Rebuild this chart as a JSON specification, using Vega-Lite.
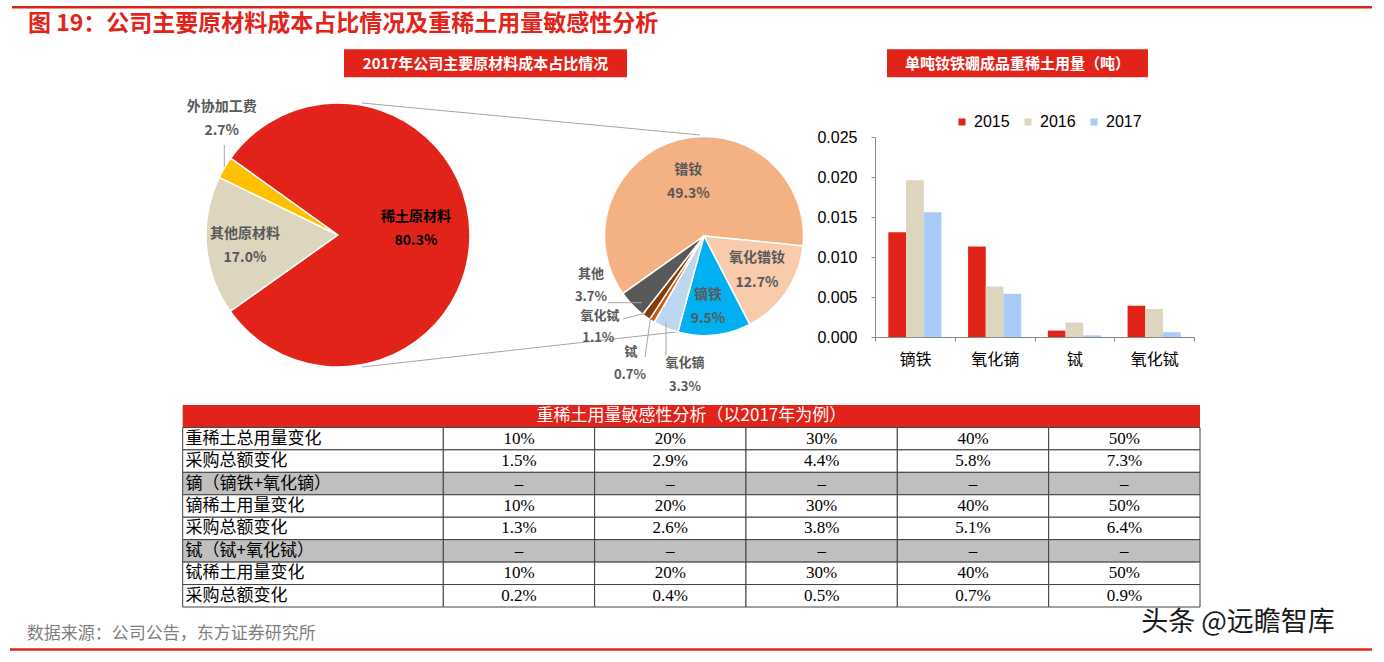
{
"$schema": "https://vega.github.io/schema/vega-lite/v6.json",
"padding": 0,
"background": "#ffffff",
"spacing": 0,
"bounds": "full",
"config": {"view": {"stroke": null}, "concat": {"spacing": 0}, "font": "Noto Sans CJK SC", "text": {"baseline": "middle"}},
"datasets": {
  "cost": [
    {"项目": "其他原材料", "占比": 0.170, "序号": 1},
    {"项目": "外协加工费", "占比": 0.027, "序号": 2},
    {"项目": "稀土原材料", "占比": 0.803, "序号": 3}
  ],
  "rare": [
    {"项目": "镨钕", "占比": 0.493, "序号": 1},
    {"项目": "氧化镨钕", "占比": 0.127, "序号": 2},
    {"项目": "镝铁", "占比": 0.095, "序号": 3},
    {"项目": "氧化镝", "占比": 0.033, "序号": 4},
    {"项目": "铽", "占比": 0.007, "序号": 5},
    {"项目": "氧化铽", "占比": 0.011, "序号": 6},
    {"项目": "其他", "占比": 0.037, "序号": 7}
  ],
  "bars": [
    {"材料": "镝铁", "年份": "2015", "用量": 0.0131},
    {"材料": "镝铁", "年份": "2016", "用量": 0.0196},
    {"材料": "镝铁", "年份": "2017", "用量": 0.0156},
    {"材料": "氧化镝", "年份": "2015", "用量": 0.0113},
    {"材料": "氧化镝", "年份": "2016", "用量": 0.0063},
    {"材料": "氧化镝", "年份": "2017", "用量": 0.0054},
    {"材料": "铽", "年份": "2015", "用量": 0.0008},
    {"材料": "铽", "年份": "2016", "用量": 0.0018},
    {"材料": "铽", "年份": "2017", "用量": 0.0002},
    {"材料": "氧化铽", "年份": "2015", "用量": 0.0039},
    {"材料": "氧化铽", "年份": "2016", "用量": 0.0035},
    {"材料": "氧化铽", "年份": "2017", "用量": 0.0006}
  ],
  "table": [
    {"行": 1, "指标": "重稀土总用量变化", "情景1": "10%", "情景2": "20%", "情景3": "30%", "情景4": "40%", "情景5": "50%"},
    {"行": 2, "指标": "采购总额变化", "情景1": "1.5%", "情景2": "2.9%", "情景3": "4.4%", "情景4": "5.8%", "情景5": "7.3%"},
    {"行": 3, "指标": "镝（镝铁+氧化镝）", "情景1": "–", "情景2": "–", "情景3": "–", "情景4": "–", "情景5": "–"},
    {"行": 4, "指标": "镝稀土用量变化", "情景1": "10%", "情景2": "20%", "情景3": "30%", "情景4": "40%", "情景5": "50%"},
    {"行": 5, "指标": "采购总额变化", "情景1": "1.3%", "情景2": "2.6%", "情景3": "3.8%", "情景4": "5.1%", "情景5": "6.4%"},
    {"行": 6, "指标": "铽（铽+氧化铽）", "情景1": "–", "情景2": "–", "情景3": "–", "情景4": "–", "情景5": "–"},
    {"行": 7, "指标": "铽稀土用量变化", "情景1": "10%", "情景2": "20%", "情景3": "30%", "情景4": "40%", "情景5": "50%"},
    {"行": 8, "指标": "采购总额变化", "情景1": "0.2%", "情景2": "0.4%", "情景3": "0.5%", "情景4": "0.7%", "情景5": "0.9%"}
  ]
},
"resolve": {"scale": {"color": "independent"}, "legend": {"color": "independent"}},
"vconcat": [
  {
    "width": 1384, "height": 45,
    "layer": [
      {"data": {"values": [{}]}, "mark": {"type": "rule", "color": "#E2231A", "strokeWidth": 2.5},
       "encoding": {
         "x": {"datum": 12, "type": "quantitative", "scale": {"domain": [0, 1384], "nice": false, "zero": false}, "axis": null},
         "x2": {"datum": 1372},
         "y": {"datum": 7.3, "type": "quantitative", "scale": {"domain": [0, 45], "nice": false, "zero": false, "reverse": true}, "axis": null}}},
      {"data": {"values": [{"标题": "图 19：公司主要原材料成本占比情况及重稀土用量敏感性分析"}]},
       "mark": {"type": "text", "align": "left", "baseline": "middle", "font": "Noto Sans CJK SC", "fontSize": 23, "fontWeight": "bold", "color": "#E2231A"},
       "encoding": {
         "x": {"datum": 28, "type": "quantitative", "scale": {"domain": [0, 1384], "nice": false, "zero": false}, "axis": null},
         "y": {"datum": 24, "type": "quantitative", "scale": {"domain": [0, 45], "nice": false, "zero": false, "reverse": true}, "axis": null},
         "text": {"field": "标题"}}}
    ]
  },
  {
    "spacing": 0, "bounds": "flush",
    "resolve": {"scale": {"color": "independent"}, "legend": {"color": "independent"}},
    "hconcat": [
      {
        "width": 875, "height": 360,
        "layer": [
          {"data": {"values": [{}]}, "mark": {"type": "rect", "color": "#E2231A"},
           "encoding": {
             "x": {"datum": 344, "type": "quantitative", "scale": {"domain": [0, 875], "nice": false, "zero": false}, "axis": null},
             "x2": {"datum": 627},
             "y": {"datum": 49.3, "type": "quantitative", "scale": {"domain": [45, 405], "nice": false, "zero": false, "reverse": true}, "axis": null},
             "y2": {"datum": 77.3}}},
          {"data": {"values": [{"标题": "2017年公司主要原材料成本占比情况"}]},
           "mark": {"type": "text", "font": "Noto Sans CJK SC", "fontSize": 15, "fontWeight": "bold", "color": "#ffffff", "align": "center", "baseline": "middle"},
           "encoding": {
             "x": {"datum": 485.5, "type": "quantitative", "scale": {"domain": [0, 875], "nice": false, "zero": false}, "axis": null},
             "y": {"datum": 63.5, "type": "quantitative", "scale": {"domain": [45, 405], "nice": false, "zero": false, "reverse": true}, "axis": null},
             "text": {"field": "标题"}}},
          {"data": {"values": [{}]}, "mark": {"type": "rule", "color": "#A6A6A6", "strokeWidth": 1},
           "encoding": {
             "x": {"datum": 362, "type": "quantitative", "scale": {"domain": [0, 875], "nice": false, "zero": false}, "axis": null},
             "x2": {"datum": 700},
             "y": {"datum": 103, "type": "quantitative", "scale": {"domain": [45, 405], "nice": false, "zero": false, "reverse": true}, "axis": null},
             "y2": {"datum": 135}}},
          {"data": {"values": [{}]}, "mark": {"type": "rule", "color": "#A6A6A6", "strokeWidth": 1},
           "encoding": {
             "x": {"datum": 362, "type": "quantitative", "scale": {"domain": [0, 875], "nice": false, "zero": false}, "axis": null},
             "x2": {"datum": 703},
             "y": {"datum": 367, "type": "quantitative", "scale": {"domain": [45, 405], "nice": false, "zero": false, "reverse": true}, "axis": null},
             "y2": {"datum": 329}}},
          {"data": {"name": "cost"},
           "mark": {"type": "arc", "radius": 132, "stroke": "#ffffff", "strokeWidth": 1.5},
           "encoding": {
             "x": {"datum": 338, "type": "quantitative", "scale": {"domain": [0, 875], "nice": false, "zero": false}, "axis": null},
             "y": {"datum": 235, "type": "quantitative", "scale": {"domain": [45, 405], "nice": false, "zero": false, "reverse": true}, "axis": null},
             "theta": {"field": "占比", "type": "quantitative", "stack": "normalize", "scale": {"range": [4.096, 10.379]}},
             "order": {"field": "序号", "type": "quantitative"},
             "color": {"field": "项目", "type": "nominal", "legend": null,
               "scale": {"domain": ["其他原材料", "外协加工费", "稀土原材料", "镨钕", "氧化镨钕", "镝铁", "氧化镝", "铽", "氧化铽", "其他"],
                         "range": ["#DDD5BE", "#FFC000", "#E2231A", "#F4B183", "#F8CBAD", "#00B0F0", "#BDD7EE", "#C55A11", "#843C0C", "#595959"]}}}},
          {"data": {"name": "rare"},
           "mark": {"type": "arc", "radius": 99.5, "stroke": "#ffffff", "strokeWidth": 1.5},
           "encoding": {
             "x": {"datum": 704, "type": "quantitative", "scale": {"domain": [0, 875], "nice": false, "zero": false}, "axis": null},
             "y": {"datum": 236, "type": "quantitative", "scale": {"domain": [45, 405], "nice": false, "zero": false, "reverse": true}, "axis": null},
             "theta": {"field": "占比", "type": "quantitative", "stack": "normalize", "scale": {"range": [4.096, 10.379]}},
             "order": {"field": "序号", "type": "quantitative"},
             "color": {"field": "项目", "type": "nominal", "legend": null,
               "scale": {"domain": ["其他原材料", "外协加工费", "稀土原材料", "镨钕", "氧化镨钕", "镝铁", "氧化镝", "铽", "氧化铽", "其他"],
                         "range": ["#DDD5BE", "#FFC000", "#E2231A", "#F4B183", "#F8CBAD", "#00B0F0", "#BDD7EE", "#C55A11", "#843C0C", "#595959"]}}}},
          {"data": {"values": [{}]}, "mark": {"type": "rule", "color": "#A6A6A6", "strokeWidth": 1},
           "encoding": {
             "x": {"datum": 224.3, "type": "quantitative", "scale": {"domain": [0, 875], "nice": false, "zero": false}, "axis": null},
             "y": {"datum": 145, "type": "quantitative", "scale": {"domain": [45, 405], "nice": false, "zero": false, "reverse": true}, "axis": null},
             "y2": {"datum": 167}}},
          {"data": {"values": [{}]}, "mark": {"type": "rule", "color": "#A6A6A6", "strokeWidth": 1},
           "encoding": {
             "x": {"datum": 608, "type": "quantitative", "scale": {"domain": [0, 875], "nice": false, "zero": false}, "axis": null},
             "x2": {"datum": 642},
             "y": {"datum": 302.7, "type": "quantitative", "scale": {"domain": [45, 405], "nice": false, "zero": false, "reverse": true}, "axis": null}}},
          {"data": {"values": [{}]}, "mark": {"type": "rule", "color": "#A6A6A6", "strokeWidth": 1},
           "encoding": {
             "x": {"datum": 623, "type": "quantitative", "scale": {"domain": [0, 875], "nice": false, "zero": false}, "axis": null},
             "x2": {"datum": 646},
             "y": {"datum": 319, "type": "quantitative", "scale": {"domain": [45, 405], "nice": false, "zero": false, "reverse": true}, "axis": null},
             "y2": {"datum": 313}}},
          {"data": {"values": [{}]}, "mark": {"type": "rule", "color": "#A6A6A6", "strokeWidth": 1},
           "encoding": {
             "x": {"datum": 645, "type": "quantitative", "scale": {"domain": [0, 875], "nice": false, "zero": false}, "axis": null},
             "x2": {"datum": 650.5},
             "y": {"datum": 357, "type": "quantitative", "scale": {"domain": [45, 405], "nice": false, "zero": false, "reverse": true}, "axis": null},
             "y2": {"datum": 318}}},
          {"data": {"values": [{}]}, "mark": {"type": "rule", "color": "#A6A6A6", "strokeWidth": 1},
           "encoding": {
             "x": {"datum": 666, "type": "quantitative", "scale": {"domain": [0, 875], "nice": false, "zero": false}, "axis": null},
             "y": {"datum": 322, "type": "quantitative", "scale": {"domain": [45, 405], "nice": false, "zero": false, "reverse": true}, "axis": null},
             "y2": {"datum": 355}}},
          {"data": {"name": "cost"}, "transform": [{"filter": "datum['项目'] === '稀土原材料'"}],
           "layer": [
             {"mark": {"type": "text", "font": "Noto Sans CJK SC", "fontSize": 14, "fontWeight": "bold", "color": "#000000", "align": "center", "baseline": "middle"},
              "encoding": {"x": {"datum": 416, "type": "quantitative", "scale": {"domain": [0, 875], "nice": false, "zero": false}, "axis": null},
                           "y": {"datum": 217.3, "type": "quantitative", "scale": {"domain": [45, 405], "nice": false, "zero": false, "reverse": true}, "axis": null},
                           "text": {"field": "项目"}}},
             {"mark": {"type": "text", "font": "Noto Sans CJK SC", "fontSize": 14, "fontWeight": "bold", "color": "#000000", "align": "center", "baseline": "middle"},
              "encoding": {"x": {"datum": 416, "type": "quantitative", "scale": {"domain": [0, 875], "nice": false, "zero": false}, "axis": null},
                           "y": {"datum": 241, "type": "quantitative", "scale": {"domain": [45, 405], "nice": false, "zero": false, "reverse": true}, "axis": null},
                           "text": {"field": "占比", "type": "quantitative", "format": ".1%"}}}
           ]},
          {"data": {"name": "cost"}, "transform": [{"filter": "datum['项目'] === '其他原材料'"}],
           "layer": [
             {"mark": {"type": "text", "font": "Noto Sans CJK SC", "fontSize": 14, "fontWeight": "bold", "color": "#595959", "align": "center", "baseline": "middle"},
              "encoding": {"x": {"datum": 245, "type": "quantitative", "scale": {"domain": [0, 875], "nice": false, "zero": false}, "axis": null},
                           "y": {"datum": 234.3, "type": "quantitative", "scale": {"domain": [45, 405], "nice": false, "zero": false, "reverse": true}, "axis": null},
                           "text": {"field": "项目"}}},
             {"mark": {"type": "text", "font": "Noto Sans CJK SC", "fontSize": 14, "fontWeight": "bold", "color": "#595959", "align": "center", "baseline": "middle"},
              "encoding": {"x": {"datum": 245, "type": "quantitative", "scale": {"domain": [0, 875], "nice": false, "zero": false}, "axis": null},
                           "y": {"datum": 257.7, "type": "quantitative", "scale": {"domain": [45, 405], "nice": false, "zero": false, "reverse": true}, "axis": null},
                           "text": {"field": "占比", "type": "quantitative", "format": ".1%"}}}
           ]},
          {"data": {"name": "cost"}, "transform": [{"filter": "datum['项目'] === '外协加工费'"}],
           "layer": [
             {"mark": {"type": "text", "font": "Noto Sans CJK SC", "fontSize": 14, "fontWeight": "bold", "color": "#595959", "align": "center", "baseline": "middle"},
              "encoding": {"x": {"datum": 221.7, "type": "quantitative", "scale": {"domain": [0, 875], "nice": false, "zero": false}, "axis": null},
                           "y": {"datum": 107.3, "type": "quantitative", "scale": {"domain": [45, 405], "nice": false, "zero": false, "reverse": true}, "axis": null},
                           "text": {"field": "项目"}}},
             {"mark": {"type": "text", "font": "Noto Sans CJK SC", "fontSize": 14, "fontWeight": "bold", "color": "#595959", "align": "center", "baseline": "middle"},
              "encoding": {"x": {"datum": 221.7, "type": "quantitative", "scale": {"domain": [0, 875], "nice": false, "zero": false}, "axis": null},
                           "y": {"datum": 131, "type": "quantitative", "scale": {"domain": [45, 405], "nice": false, "zero": false, "reverse": true}, "axis": null},
                           "text": {"field": "占比", "type": "quantitative", "format": ".1%"}}}
           ]},
          {"data": {"name": "rare"}, "transform": [{"filter": "datum['项目'] === '镨钕'"}],
           "layer": [
             {"mark": {"type": "text", "font": "Noto Sans CJK SC", "fontSize": 14, "fontWeight": "bold", "color": "#595959", "align": "center", "baseline": "middle"},
              "encoding": {"x": {"datum": 688.3, "type": "quantitative", "scale": {"domain": [0, 875], "nice": false, "zero": false}, "axis": null},
                           "y": {"datum": 170, "type": "quantitative", "scale": {"domain": [45, 405], "nice": false, "zero": false, "reverse": true}, "axis": null},
                           "text": {"field": "项目"}}},
             {"mark": {"type": "text", "font": "Noto Sans CJK SC", "fontSize": 14, "fontWeight": "bold", "color": "#595959", "align": "center", "baseline": "middle"},
              "encoding": {"x": {"datum": 688.3, "type": "quantitative", "scale": {"domain": [0, 875], "nice": false, "zero": false}, "axis": null},
                           "y": {"datum": 194, "type": "quantitative", "scale": {"domain": [45, 405], "nice": false, "zero": false, "reverse": true}, "axis": null},
                           "text": {"field": "占比", "type": "quantitative", "format": ".1%"}}}
           ]},
          {"data": {"name": "rare"}, "transform": [{"filter": "datum['项目'] === '氧化镨钕'"}],
           "layer": [
             {"mark": {"type": "text", "font": "Noto Sans CJK SC", "fontSize": 14, "fontWeight": "bold", "color": "#595959", "align": "center", "baseline": "middle"},
              "encoding": {"x": {"datum": 757, "type": "quantitative", "scale": {"domain": [0, 875], "nice": false, "zero": false}, "axis": null},
                           "y": {"datum": 258.3, "type": "quantitative", "scale": {"domain": [45, 405], "nice": false, "zero": false, "reverse": true}, "axis": null},
                           "text": {"field": "项目"}}},
             {"mark": {"type": "text", "font": "Noto Sans CJK SC", "fontSize": 14, "fontWeight": "bold", "color": "#595959", "align": "center", "baseline": "middle"},
              "encoding": {"x": {"datum": 757, "type": "quantitative", "scale": {"domain": [0, 875], "nice": false, "zero": false}, "axis": null},
                           "y": {"datum": 282.7, "type": "quantitative", "scale": {"domain": [45, 405], "nice": false, "zero": false, "reverse": true}, "axis": null},
                           "text": {"field": "占比", "type": "quantitative", "format": ".1%"}}}
           ]},
          {"data": {"name": "rare"}, "transform": [{"filter": "datum['项目'] === '镝铁'"}],
           "layer": [
             {"mark": {"type": "text", "font": "Noto Sans CJK SC", "fontSize": 14, "fontWeight": "bold", "color": "#595959", "align": "center", "baseline": "middle"},
              "encoding": {"x": {"datum": 708, "type": "quantitative", "scale": {"domain": [0, 875], "nice": false, "zero": false}, "axis": null},
                           "y": {"datum": 295, "type": "quantitative", "scale": {"domain": [45, 405], "nice": false, "zero": false, "reverse": true}, "axis": null},
                           "text": {"field": "项目"}}},
             {"mark": {"type": "text", "font": "Noto Sans CJK SC", "fontSize": 14, "fontWeight": "bold", "color": "#595959", "align": "center", "baseline": "middle"},
              "encoding": {"x": {"datum": 708, "type": "quantitative", "scale": {"domain": [0, 875], "nice": false, "zero": false}, "axis": null},
                           "y": {"datum": 319, "type": "quantitative", "scale": {"domain": [45, 405], "nice": false, "zero": false, "reverse": true}, "axis": null},
                           "text": {"field": "占比", "type": "quantitative", "format": ".1%"}}}
           ]},
          {"data": {"name": "rare"}, "transform": [{"filter": "datum['项目'] === '其他'"}],
           "layer": [
             {"mark": {"type": "text", "font": "Noto Sans CJK SC", "fontSize": 13, "fontWeight": "bold", "color": "#595959", "align": "center", "baseline": "middle"},
              "encoding": {"x": {"datum": 591, "type": "quantitative", "scale": {"domain": [0, 875], "nice": false, "zero": false}, "axis": null},
                           "y": {"datum": 274, "type": "quantitative", "scale": {"domain": [45, 405], "nice": false, "zero": false, "reverse": true}, "axis": null},
                           "text": {"field": "项目"}}},
             {"mark": {"type": "text", "font": "Noto Sans CJK SC", "fontSize": 13, "fontWeight": "bold", "color": "#595959", "align": "center", "baseline": "middle"},
              "encoding": {"x": {"datum": 591, "type": "quantitative", "scale": {"domain": [0, 875], "nice": false, "zero": false}, "axis": null},
                           "y": {"datum": 296.5, "type": "quantitative", "scale": {"domain": [45, 405], "nice": false, "zero": false, "reverse": true}, "axis": null},
                           "text": {"field": "占比", "type": "quantitative", "format": ".1%"}}}
           ]},
          {"data": {"name": "rare"}, "transform": [{"filter": "datum['项目'] === '氧化铽'"}],
           "layer": [
             {"mark": {"type": "text", "font": "Noto Sans CJK SC", "fontSize": 13, "fontWeight": "bold", "color": "#595959", "align": "center", "baseline": "middle"},
              "encoding": {"x": {"datum": 600, "type": "quantitative", "scale": {"domain": [0, 875], "nice": false, "zero": false}, "axis": null},
                           "y": {"datum": 316, "type": "quantitative", "scale": {"domain": [45, 405], "nice": false, "zero": false, "reverse": true}, "axis": null},
                           "text": {"field": "项目"}}},
             {"mark": {"type": "text", "font": "Noto Sans CJK SC", "fontSize": 13, "fontWeight": "bold", "color": "#595959", "align": "center", "baseline": "middle"},
              "encoding": {"x": {"datum": 598.3, "type": "quantitative", "scale": {"domain": [0, 875], "nice": false, "zero": false}, "axis": null},
                           "y": {"datum": 338, "type": "quantitative", "scale": {"domain": [45, 405], "nice": false, "zero": false, "reverse": true}, "axis": null},
                           "text": {"field": "占比", "type": "quantitative", "format": ".1%"}}}
           ]},
          {"data": {"name": "rare"}, "transform": [{"filter": "datum['项目'] === '铽'"}],
           "layer": [
             {"mark": {"type": "text", "font": "Noto Sans CJK SC", "fontSize": 13, "fontWeight": "bold", "color": "#595959", "align": "center", "baseline": "middle"},
              "encoding": {"x": {"datum": 631, "type": "quantitative", "scale": {"domain": [0, 875], "nice": false, "zero": false}, "axis": null},
                           "y": {"datum": 352, "type": "quantitative", "scale": {"domain": [45, 405], "nice": false, "zero": false, "reverse": true}, "axis": null},
                           "text": {"field": "项目"}}},
             {"mark": {"type": "text", "font": "Noto Sans CJK SC", "fontSize": 13, "fontWeight": "bold", "color": "#595959", "align": "center", "baseline": "middle"},
              "encoding": {"x": {"datum": 630, "type": "quantitative", "scale": {"domain": [0, 875], "nice": false, "zero": false}, "axis": null},
                           "y": {"datum": 375, "type": "quantitative", "scale": {"domain": [45, 405], "nice": false, "zero": false, "reverse": true}, "axis": null},
                           "text": {"field": "占比", "type": "quantitative", "format": ".1%"}}}
           ]},
          {"data": {"name": "rare"}, "transform": [{"filter": "datum['项目'] === '氧化镝'"}],
           "layer": [
             {"mark": {"type": "text", "font": "Noto Sans CJK SC", "fontSize": 13, "fontWeight": "bold", "color": "#595959", "align": "center", "baseline": "middle"},
              "encoding": {"x": {"datum": 685, "type": "quantitative", "scale": {"domain": [0, 875], "nice": false, "zero": false}, "axis": null},
                           "y": {"datum": 363.3, "type": "quantitative", "scale": {"domain": [45, 405], "nice": false, "zero": false, "reverse": true}, "axis": null},
                           "text": {"field": "项目"}}},
             {"mark": {"type": "text", "font": "Noto Sans CJK SC", "fontSize": 13, "fontWeight": "bold", "color": "#595959", "align": "center", "baseline": "middle"},
              "encoding": {"x": {"datum": 685, "type": "quantitative", "scale": {"domain": [0, 875], "nice": false, "zero": false}, "axis": null},
                           "y": {"datum": 386.7, "type": "quantitative", "scale": {"domain": [45, 405], "nice": false, "zero": false, "reverse": true}, "axis": null},
                           "text": {"field": "占比", "type": "quantitative", "format": ".1%"}}}
           ]}
        ]
      },
      {
        "spacing": 0, "bounds": "flush",
        "resolve": {"scale": {"color": "independent"}, "legend": {"color": "independent"}},
        "vconcat": [
          {
            "width": 319, "height": 92,
            "layer": [
              {"data": {"values": [{}]}, "mark": {"type": "rect", "color": "#E2231A"},
               "encoding": {
                 "x": {"datum": 887, "type": "quantitative", "scale": {"domain": [875, 1194], "nice": false, "zero": false}, "axis": null},
                 "x2": {"datum": 1148},
                 "y": {"datum": 49.3, "type": "quantitative", "scale": {"domain": [45, 137], "nice": false, "zero": false, "reverse": true}, "axis": null},
                 "y2": {"datum": 77.3}}},
              {"data": {"values": [{"标题": "单吨钕铁硼成品重稀土用量（吨）"}]},
               "mark": {"type": "text", "font": "Noto Sans CJK SC", "fontSize": 15, "fontWeight": "bold", "color": "#ffffff", "align": "center", "baseline": "middle"},
               "encoding": {
                 "x": {"datum": 1017.5, "type": "quantitative", "scale": {"domain": [875, 1194], "nice": false, "zero": false}, "axis": null},
                 "y": {"datum": 63.5, "type": "quantitative", "scale": {"domain": [45, 137], "nice": false, "zero": false, "reverse": true}, "axis": null},
                 "text": {"field": "标题"}}}
            ]
          },
          {
            "width": 319, "height": 200,
            "data": {"name": "bars"},
            "mark": {"type": "bar"},
            "encoding": {
              "x": {"field": "材料", "type": "nominal", "sort": ["镝铁", "氧化镝", "铽", "氧化铽"],
                    "scale": {"paddingInner": 0, "paddingOuter": 0},
                    "axis": {"title": null, "labelAngle": 0, "labelFont": "Noto Sans CJK SC", "labelFontSize": 16, "labelColor": "#000000",
                             "tickBand": "extent", "tickSize": 4, "labelPadding": 10, "domainColor": "#898989", "tickColor": "#898989"}},
              "xOffset": {"field": "年份", "type": "nominal", "scale": {"paddingInner": 0, "paddingOuter": 0.753}},
              "y": {"field": "用量", "type": "quantitative", "scale": {"domain": [0, 0.025], "nice": false},
                    "axis": {"title": null, "values": [0, 0.005, 0.01, 0.015, 0.02, 0.025], "format": ".3f", "grid": false,
                             "labelFont": "Liberation Sans", "labelFontSize": 16, "labelColor": "#000000",
                             "tickSize": 4, "labelPadding": 14, "domainColor": "#898989", "tickColor": "#898989"}},
              "color": {"field": "年份", "type": "nominal",
                        "scale": {"domain": ["2015", "2016", "2017"], "range": ["#E2231A", "#DDD5BE", "#A8CBF7"]},
                        "legend": {"title": null, "orient": "none", "legendX": 79, "legendY": -23, "direction": "horizontal",
                                   "symbolType": "square", "symbolSize": 49, "symbolStrokeWidth": 0,
                                   "labelFont": "Liberation Sans", "labelFontSize": 16, "labelColor": "#000000",
                                   "labelOffset": 4, "columnPadding": 10}}
            }
          }
        ]
      }
    ]
  },
  {
    "width": 1384, "height": 202,
    "resolve": {"scale": {"x": "independent"}},
    "layer": [
      {"data": {"values": [{"行": 0, "标题": "重稀土用量敏感性分析（以2017年为例）"}]},
       "layer": [
         {"mark": {"type": "rect", "color": "#E2231A"},
          "encoding": {
            "x": {"datum": 182.7, "type": "quantitative", "scale": {"domain": [0, 1384], "nice": false, "zero": false}, "axis": null},
            "x2": {"datum": 1200},
            "y": {"field": "行", "type": "ordinal", "scale": {"domain": [0, 1, 2, 3, 4, 5, 6, 7, 8], "paddingInner": 0, "paddingOuter": 0}, "axis": null}}},
         {"mark": {"type": "text", "font": "Noto Sans CJK SC", "fontSize": 17, "color": "#ffffff", "align": "center", "baseline": "middle"},
          "encoding": {
            "x": {"datum": 691.4, "type": "quantitative", "scale": {"domain": [0, 1384], "nice": false, "zero": false}, "axis": null},
            "y": {"field": "行", "type": "ordinal", "scale": {"domain": [0, 1, 2, 3, 4, 5, 6, 7, 8], "paddingInner": 0, "paddingOuter": 0}, "axis": null},
            "text": {"field": "标题"}}}
       ]},
      {"data": {"name": "table"},
       "layer": [
         {"mark": {"type": "rect", "stroke": "#404040", "strokeWidth": 1},
          "encoding": {
            "x": {"datum": 182.7, "type": "quantitative", "scale": {"domain": [0, 1384], "nice": false, "zero": false}, "axis": null},
            "x2": {"datum": 443.3},
            "y": {"field": "行", "type": "ordinal", "scale": {"domain": [0, 1, 2, 3, 4, 5, 6, 7, 8], "paddingInner": 0, "paddingOuter": 0}, "axis": null},
            "fill": {"condition": {"test": "datum['情景1'] === '–'", "value": "#BFBFBF"}, "value": "#ffffff"}}},
         {"mark": {"type": "text", "font": "Noto Sans CJK SC", "fontSize": 17, "color": "#000000", "align": "left", "baseline": "middle"},
          "encoding": {
            "x": {"datum": 185.5, "type": "quantitative", "scale": {"domain": [0, 1384], "nice": false, "zero": false}, "axis": null},
            "y": {"field": "行", "type": "ordinal", "scale": {"domain": [0, 1, 2, 3, 4, 5, 6, 7, 8], "paddingInner": 0, "paddingOuter": 0}, "axis": null},
            "text": {"field": "指标"}}}
       ]},
      {"data": {"name": "table"},
       "transform": [{"fold": ["情景1", "情景2", "情景3", "情景4", "情景5"], "as": ["情景", "数值"]}],
       "layer": [
         {"mark": {"type": "rect", "stroke": "#404040", "strokeWidth": 1},
          "encoding": {
            "x": {"field": "情景", "type": "nominal", "scale": {"domain": ["情景1", "情景2", "情景3", "情景4", "情景5"], "range": [443.3, 1200], "paddingInner": 0, "paddingOuter": 0}, "axis": null},
            "y": {"field": "行", "type": "ordinal", "scale": {"domain": [0, 1, 2, 3, 4, 5, 6, 7, 8], "paddingInner": 0, "paddingOuter": 0}, "axis": null},
            "fill": {"condition": {"test": "datum['情景1'] === '–'", "value": "#BFBFBF"}, "value": "#ffffff"}}},
         {"mark": {"type": "text", "font": "Liberation Serif", "fontSize": 17, "color": "#000000", "align": "center", "baseline": "middle"},
          "encoding": {
            "x": {"field": "情景", "type": "nominal", "scale": {"domain": ["情景1", "情景2", "情景3", "情景4", "情景5"], "range": [443.3, 1200], "paddingInner": 0, "paddingOuter": 0}, "axis": null},
            "y": {"field": "行", "type": "ordinal", "scale": {"domain": [0, 1, 2, 3, 4, 5, 6, 7, 8], "paddingInner": 0, "paddingOuter": 0}, "axis": null},
            "text": {"field": "数值"}}}
       ]}
    ]
  },
  {
    "width": 1384, "height": 55,
    "layer": [
      {"data": {"values": [{"来源": "数据来源：公司公告，东方证券研究所"}]},
       "mark": {"type": "text", "font": "Noto Sans CJK SC", "fontSize": 17, "color": "#7F7F7F", "align": "left", "baseline": "middle"},
       "encoding": {
         "x": {"datum": 26.7, "type": "quantitative", "scale": {"domain": [0, 1384], "nice": false, "zero": false}, "axis": null},
         "y": {"datum": 633, "type": "quantitative", "scale": {"domain": [607, 662], "nice": false, "zero": false, "reverse": true}, "axis": null},
         "text": {"field": "来源"}}},
      {"data": {"values": [{}]}, "mark": {"type": "rule", "color": "#E2231A", "strokeWidth": 2.5},
       "encoding": {
         "x": {"datum": 10, "type": "quantitative", "scale": {"domain": [0, 1384], "nice": false, "zero": false}, "axis": null},
         "x2": {"datum": 1372},
         "y": {"datum": 648.5, "type": "quantitative", "scale": {"domain": [607, 662], "nice": false, "zero": false, "reverse": true}, "axis": null}}},
      {"data": {"values": [{"水印": "头条 @远瞻智库"}]},
       "mark": {"type": "text", "font": "Noto Sans CJK SC", "fontSize": 27, "color": "#1A1A1A", "align": "center", "baseline": "middle"},
       "encoding": {
         "x": {"datum": 1238, "type": "quantitative", "scale": {"domain": [0, 1384], "nice": false, "zero": false}, "axis": null},
         "y": {"datum": 622, "type": "quantitative", "scale": {"domain": [607, 662], "nice": false, "zero": false, "reverse": true}, "axis": null},
         "text": {"field": "水印"}}}
    ]
  }
]
}
